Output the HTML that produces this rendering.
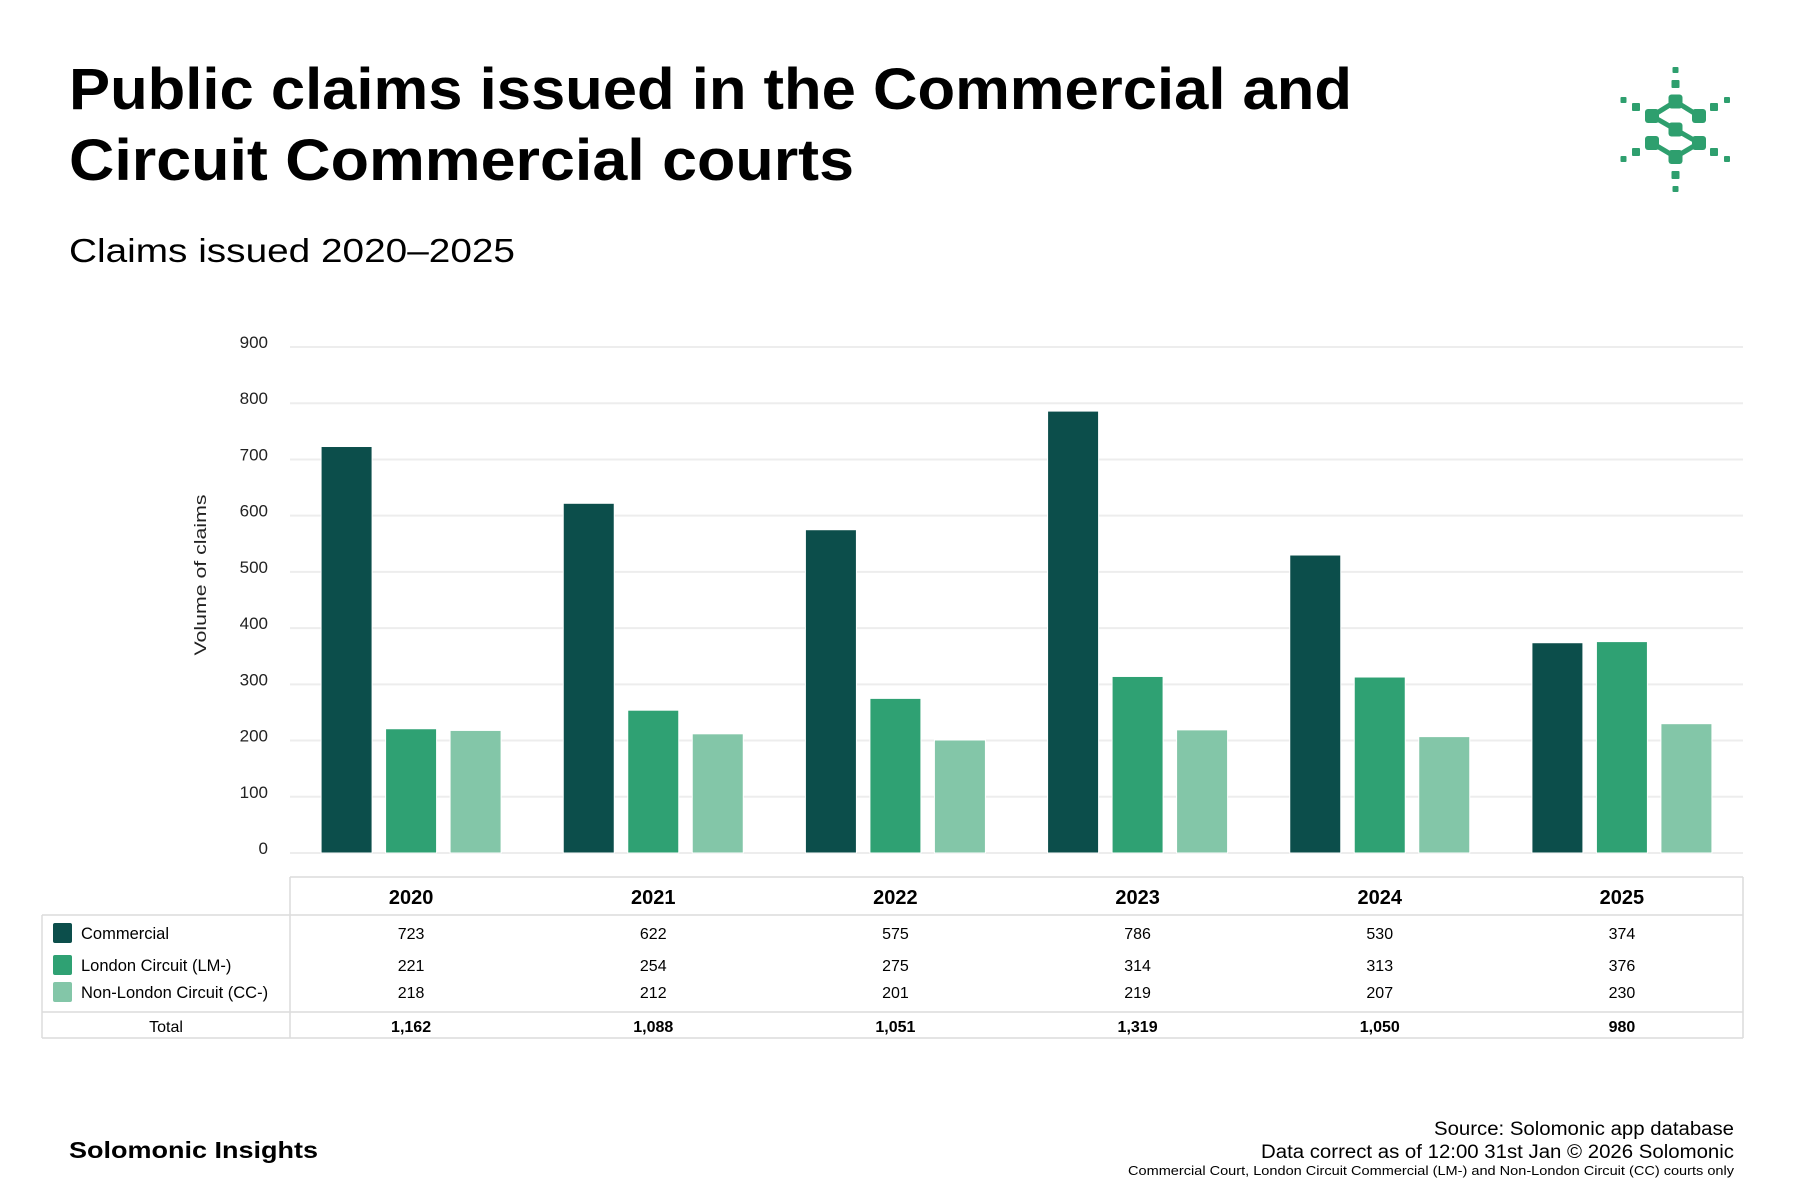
<!DOCTYPE html>
<html><head><meta charset="utf-8"><style>
html,body{margin:0;padding:0;background:#fff;}
svg{display:block;font-family:"Liberation Sans",sans-serif;}
</style></head><body>
<svg id="chart" width="1800" height="1200" viewBox="0 0 1800 1200" xmlns="http://www.w3.org/2000/svg">
<text x="69" y="109" font-size="58" font-weight="bold" fill="#000" textLength="1283" lengthAdjust="spacingAndGlyphs">Public claims issued in the Commercial and</text>
<text x="69" y="180" font-size="58" font-weight="bold" fill="#000" textLength="785" lengthAdjust="spacingAndGlyphs">Circuit Commercial courts</text>
<text x="69" y="262" font-size="33" fill="#000" textLength="446" lengthAdjust="spacingAndGlyphs">Claims issued 2020–2025</text>
<g id="logo" fill="#2e9f6e" stroke="#2e9f6e"></g>
<g id="grid"></g>
<g id="yticks"></g>
<text x="0" y="0" transform="translate(206,575) rotate(-90)" text-anchor="middle" font-size="17" fill="#222" textLength="161" lengthAdjust="spacingAndGlyphs">Volume of claims</text>
<g id="bars"></g>
<g id="table"></g>
<text x="69" y="1158" font-size="23" font-weight="bold" fill="#000" textLength="249" lengthAdjust="spacingAndGlyphs">Solomonic Insights</text>
<text x="1734" y="1135" font-size="19" text-anchor="end" fill="#000" textLength="300" lengthAdjust="spacingAndGlyphs">Source: Solomonic app database</text>
<text x="1734" y="1158" font-size="19" text-anchor="end" fill="#000" textLength="473" lengthAdjust="spacingAndGlyphs">Data correct as of 12:00 31st Jan © 2026 Solomonic</text>
<text x="1734" y="1175" font-size="13" text-anchor="end" fill="#000" textLength="606" lengthAdjust="spacingAndGlyphs">Commercial Court, London Circuit Commercial (LM-) and Non-London Circuit (CC) courts only</text>
</svg>
<script>
const years = ["2020","2021","2022","2023","2024","2025"];
const commercial = [723,622,575,786,530,374];
const londonCircuit = [221,254,275,314,313,376];
const nonLondonCircuit = [218,212,201,219,207,230];
const yTicks = [0,100,200,300,400,500,600,700,800,900];
const seriesNames = ["Commercial","London Circuit (LM-)","Non-London Circuit (CC-)"];
const seriesColors = ["#0c4e4b","#2fa173","#83c6a8"];

const NS="http://www.w3.org/2000/svg";
function mk(tag, attrs, parent){const e=document.createElementNS(NS,tag);for(const k in attrs)e.setAttribute(k,attrs[k]);parent.appendChild(e);return e;}
const plotL=290, plotR=1743, y0=853, yMaxPx=347, yMax=900;
const colW=(plotR-plotL)/years.length;
function yScale(v){return y0-(v/yMax)*(y0-yMaxPx);}
function xCenter(i){return plotL+colW*(i+0.5);}
const series=[commercial,londonCircuit,nonLondonCircuit];
const barW=51, barStep=64.5;

const grid=document.getElementById('grid'), yt=document.getElementById('yticks');
yTicks.forEach(t=>{
  const l=mk('line',{x1:plotL,x2:plotR,y1:yScale(t),y2:yScale(t),stroke:'#ededed','stroke-width':2},grid);
  
  
  const tx=mk('text',{x:268,y:yScale(t)+1,'text-anchor':'end','font-size':17,fill:'#222'},yt);
  tx.textContent=String(t);
  
  
});

const bars=document.getElementById('bars');
years.forEach((yr,i)=>{
  series.forEach((s,j)=>{
    const cx=xCenter(i)+(j-1)*barStep;
    const r=mk('rect',{x:cx-barW/2,y:yScale(s[i]),width:barW,height:y0-yScale(s[i]),fill:seriesColors[j],stroke:'#fff','stroke-width':1},bars);
    
    
  });
});

const tb=document.getElementById('table');
const tL=42,tTop=877,hBot=915,sep=1012,tBot=1038;
const bc='#dcdcdc';
function ln(x1,y1,x2,y2,name){const l=mk('line',{x1,y1,x2,y2,stroke:bc,'stroke-width':1.5},tb);}
ln(plotL,tTop,plotR,tTop,'table-top-border');
ln(tL,hBot,plotR,hBot,'table-header-border');
ln(tL,sep,plotR,sep,'table-total-border');
ln(tL,tBot,plotR,tBot,'table-bottom-border');
ln(tL,hBot,tL,tBot,'table-left-border');
ln(plotL,tTop,plotL,tBot,'table-label-column-border');
ln(plotR,tTop,plotR,tBot,'table-right-border');
const rowY=[933,965,992];
years.forEach((yr,i)=>{
  const h=mk('text',{x:xCenter(i),y:904,'text-anchor':'middle','font-size':20,'font-weight':'bold',fill:'#000'},tb);
  h.textContent=yr;
  
  
  series.forEach((s,j)=>{
    const t=mk('text',{x:xCenter(i),y:rowY[j]+6,'text-anchor':'middle','font-size':16,fill:'#000'},tb);
    t.textContent=String(s[i]);
    
    
  });
  const tot=commercial[i]+londonCircuit[i]+nonLondonCircuit[i];
  const tt=mk('text',{x:xCenter(i),y:1032,'text-anchor':'middle','font-size':16,'font-weight':'bold',fill:'#000'},tb);
  tt.textContent=tot.toLocaleString('en-GB');
  
  
});
seriesNames.forEach((n,j)=>{
  const sw=mk('rect',{x:53,y:rowY[j]-10,width:19,height:20,rx:2,fill:seriesColors[j]},tb);
  
  
  const t=mk('text',{x:81,y:rowY[j]+6,'font-size':16.5,fill:'#000'},tb);
  t.textContent=n;
  
  
});
const tl=mk('text',{x:166,y:1032,'text-anchor':'middle','font-size':16,fill:'#000'},tb);
tl.textContent='Total';



const lg=document.getElementById('logo');
const nodes=[[1675.5,101.5],[1652,116],[1699,116],[1675.5,129.5],[1652,143],[1699,143],[1675.5,157]];
[[0,1],[0,2],[1,3],[3,5],[4,6],[6,5]].forEach(([a,b])=>{
  const l=mk('line',{x1:nodes[a][0],y1:nodes[a][1],x2:nodes[b][0],y2:nodes[b][1],'stroke-width':5},lg);
  
  
});
nodes.forEach(([x,y])=>{
  const r=mk('rect',{x:x-7,y:y-7,width:14,height:14,rx:3,stroke:'none'},lg);
  
  
});
[[1675.5,70,6],[1675.5,84,8],[1675.5,175,8],[1675.5,189,6],[1636,107,8],[1623.5,100,6],[1714,107,8],[1727,100,6],[1636,152,8],[1623.5,159,6],[1714,152,8],[1727,159,6]].forEach(([x,y,s])=>{
  const r=mk('rect',{x:x-s/2,y:y-s/2,width:s,height:s,rx:1,stroke:'none'},lg);
  
  
});
</script>
</body></html>
